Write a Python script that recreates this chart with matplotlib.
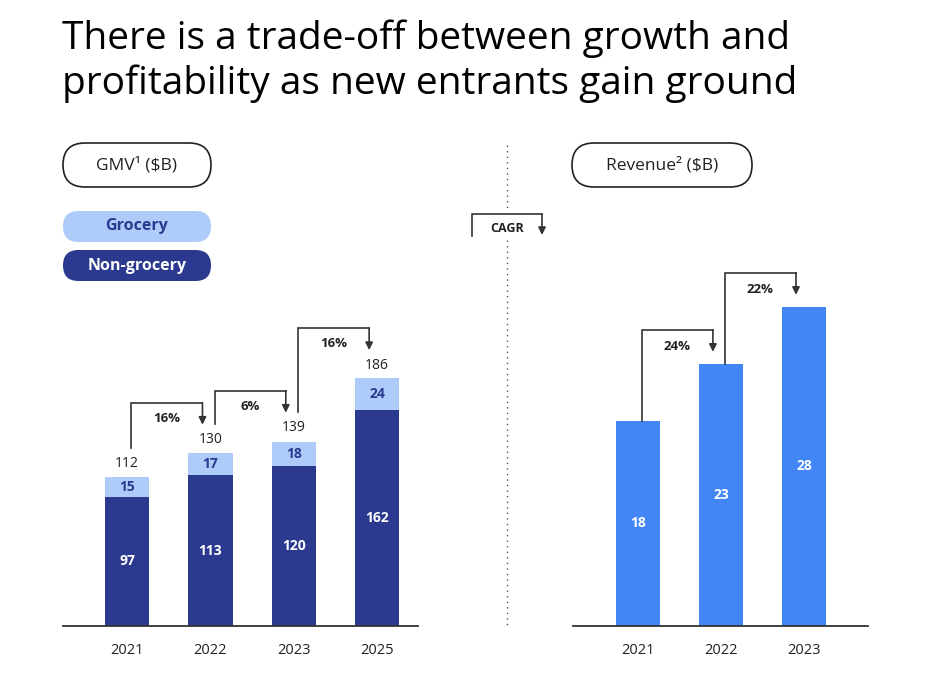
import matplotlib
matplotlib.use("Agg")
import matplotlib.pyplot as plt
from matplotlib.patches import FancyBboxPatch

plt.rcParams["font.family"] = ["Open Sans", "DejaVu Sans"]

# ── data ─────────────────────────────────────────────────────────────────────
title = "There is a trade-off between growth and\nprofitability as new entrants gain ground"

gmv_years = ["2021", "2022", "2023", "2025"]
non_grocery = [97, 113, 120, 162]
grocery = [15, 17, 18, 24]
gmv_total = [112, 130, 139, 186]
gmv_cagr = ["16%", "6%", "16%"]

rev_years = ["2021", "2022", "2023"]
revenue = [18, 23, 28]
rev_cagr = ["24%", "22%"]

NAVY = "#2B3A8F"
LIGHT = "#AECBFA"
BLUE = "#4285F4"
INK = "#202124"
LINE = "#333333"

W, H = 933, 675
fig = plt.figure(figsize=(W / 100, H / 100), dpi=100)


def px(x, y):
    # pixel coords (top-left origin) -> inches for dpi_scale_trans
    return x / 100, (H - y) / 100


def pill(x0, y0, x1, y1, fc, ec, text, color, size, weight="normal"):
    h = (y1 - y0) / 100
    bx, by = px(x0, y1)
    fig.patches.append(FancyBboxPatch(
        (bx, by), (x1 - x0) / 100, h,
        boxstyle=f"round,pad=0,rounding_size={h / 2}",
        fc=fc, ec=ec, lw=1.2, transform=fig.dpi_scale_trans))
    tx, ty = px((x0 + x1) / 2, (y0 + y1) / 2)
    fig.text(tx, ty, text, ha="center", va="center", color=color,
             fontsize=size, fontweight=weight, transform=fig.dpi_scale_trans)


# title
tx, ty = px(62, 19)
fig.text(tx, ty, title, ha="left", va="top", fontsize=28, color="black",
         linespacing=1.23, transform=fig.dpi_scale_trans)

# pills / legend
pill(63, 143, 211, 187, "white", INK, "GMV¹ ($B)", INK, 12.5)
pill(572, 143, 752, 187, "white", INK, "Revenue² ($B)", INK, 12.5)
pill(63, 211, 211, 242, LIGHT, "none", "Grocery", NAVY, 11.5, "bold")
pill(63, 250, 211, 281, NAVY, "none", "Non-grocery", "white", 11.5, "bold")

# separator + CAGR key
for ya, yb in [(145, 210), (240, 628)]:
    xa, ya_ = px(507, ya)
    _, yb_ = px(507, yb)
    fig.add_artist(plt.Line2D([xa, xa], [ya_, yb_], color="#555555", lw=1,
                              linestyle=(0, (1, 3)), transform=fig.dpi_scale_trans))
x_l, y_b = px(472, 236)
x_r, y_t = px(542, 214)
fig.add_artist(plt.Line2D([x_l, x_l, x_r], [y_b, y_t, y_t], color=LINE, lw=1.2,
                          transform=fig.dpi_scale_trans))
fig.add_artist(matplotlib.patches.FancyArrowPatch(
    (x_r, y_t), px(542, 235), arrowstyle="-|>", mutation_scale=11,
    color=LINE, lw=1.2, shrinkA=0, shrinkB=0, transform=fig.dpi_scale_trans))
cx, cy = px(507, 229)
fig.text(cx, cy, "CAGR", ha="center", va="center", fontsize=9,
         fontweight="bold", color=INK, transform=fig.dpi_scale_trans)

# axes
ax1 = fig.add_axes([63 / W, (H - 626) / H, 355 / W, 486 / H])
ax2 = fig.add_axes([573 / W, (H - 626) / H, 295 / W, 486 / H])
ax1.set_xlim(-0.77, 3.49)
ax1.set_ylim(0, 486 / 1.333)
ax2.set_xlim(-0.78, 2.77)
ax2.set_ylim(0, 486 / 11.4)

for ax in (ax1, ax2):
    for s in ("top", "left", "right"):
        ax.spines[s].set_visible(False)
    ax.spines["bottom"].set_color(LINE)
    ax.spines["bottom"].set_linewidth(1.3)
    ax.set_yticks([])
    ax.tick_params(axis="x", length=0, pad=12, labelsize=10.5, labelcolor=INK)
    ax.patch.set_alpha(0)

BW = 0.53


def cagr_arrow(ax, x0, x1, y0, ytop, ytip, label, upp, lab_off):
    ax.plot([x0, x0, x1], [y0, ytop, ytop], color=LINE, lw=1.2, clip_on=False,
            solid_joinstyle="miter")
    ax.annotate("", xy=(x1, ytip), xytext=(x1, ytop),
                arrowprops=dict(arrowstyle="-|>", color=LINE, lw=1.2,
                                mutation_scale=11, shrinkA=0, shrinkB=0))
    ax.text((x0 + x1) / 2, ytop - lab_off * upp, label, ha="center", va="center",
            fontsize=9.5, fontweight="bold", color=INK)


# ── GMV ──────────────────────────────────────────────────────────────────────
xs = range(len(gmv_years))
ax1.bar(xs, non_grocery, width=BW, color=NAVY)
ax1.bar(xs, grocery, width=BW, bottom=non_grocery, color=LIGHT)
ax1.set_xticks(list(xs), gmv_years)
upp1 = (486 / 1.333) / 486
for i, (ng, g, t) in enumerate(zip(non_grocery, grocery, gmv_total)):
    ax1.text(i, ng / 2, str(ng), ha="center", va="center", color="white",
             fontsize=10, fontweight="bold")
    ax1.text(i, ng + g / 2, str(g), ha="center", va="center", color=NAVY,
             fontsize=10, fontweight="bold")
    ax1.text(i, t + 13 * upp1, str(t), ha="center", va="center", color=INK,
             fontsize=10)
for i, lab in enumerate(gmv_cagr):
    cagr_arrow(ax1, i + 4 / 83, i + 1 - 8 / 83,
               gmv_total[i] + 29 * upp1,
               gmv_total[i + 1] + 50 * upp1,
               gmv_total[i + 1] + 28 * upp1,
               lab, upp1, 15.5)

# ── Revenue ──────────────────────────────────────────────────────────────────
xr = range(len(rev_years))
ax2.bar(xr, revenue, width=BW, color=BLUE)
ax2.set_xticks(list(xr), rev_years)
upp2 = (486 / 11.4) / 486
for i, v in enumerate(revenue):
    ax2.text(i, v / 2, str(v), ha="center", va="center", color="white",
             fontsize=10, fontweight="bold")
for i, lab in enumerate(rev_cagr):
    cagr_arrow(ax2, i + 4 / 83, i + 1 - 8 / 83,
               revenue[i],
               revenue[i + 1] + 34 * upp2,
               revenue[i + 1] + 12 * upp2,
               lab, upp2, 17)

fig.savefig("out.png", dpi=100)
